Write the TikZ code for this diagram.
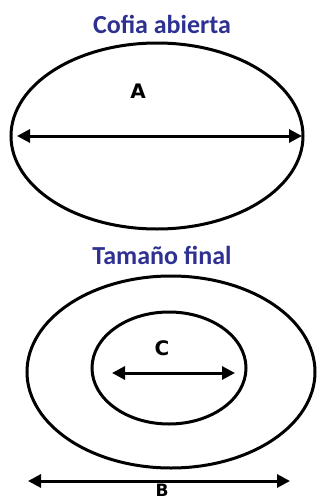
\documentclass[tikz,border=0pt]{standalone}
\usepackage{fontspec}
\setmainfont{Carlito}
\newfontfamily\letterfont{DejaVu Sans}
\usepackage{xcolor}
\usepackage{tikz}
\usetikzlibrary{arrows.meta,positioning,shapes.geometric}

\definecolor{titleblue}{RGB}{46,49,146}

\begin{document}
\begin{tikzpicture}[
    x=0.5pt, y=-0.5pt,
    title/.style={text=titleblue, font=\fontsize{13}{15}\selectfont\bfseries, inner sep=0pt},
    outline/.style={ellipse, draw=black, line width=1.5pt, inner sep=0pt, outer sep=0pt},
    letter/.style={font=\letterfont\fontsize{10}{12}\selectfont\bfseries, inner sep=0pt},
    measure/.style={{Triangle[length=6.5pt,width=6.5pt]}-{Triangle[length=6.5pt,width=6.5pt]}, line width=1.5pt}
]
\useasboundingbox[fill=white] (0,0) rectangle (320,498);

% open cap
\node[title] (cofia) at (162,24) {Cofia abierta};
\node[outline, minimum width=146pt, minimum height=93pt] (open) at (157,136) {};
\node[letter] (lblA) at (138,91) {A};
\draw[measure, shorten <=3pt, shorten >=0.5pt] (open.west) -- (open.east);

% final size
\node[title] (final) at (162,255) {Tamaño final};
\node[outline, minimum width=144pt, minimum height=96pt] (outer) at (171,372) {};
\node[outline, minimum width=77pt, minimum height=56pt] (inner) at (169,368) {};
\node[letter] (lblC) at (162,348) {C};
\coordinate (cL) at (112,373);
\coordinate (cR) at (235,373);
\draw[measure] (cL) -- (cR);

\coordinate (bL) at (28,481);
\coordinate (bR) at (290,481);
\draw[measure] (bL) -- (bR);
\node[letter, anchor=north, font=\letterfont\fontsize{8.5}{10}\selectfont\bfseries] (lblB) at (162,483.5) {B};

\end{tikzpicture}
\end{document}
